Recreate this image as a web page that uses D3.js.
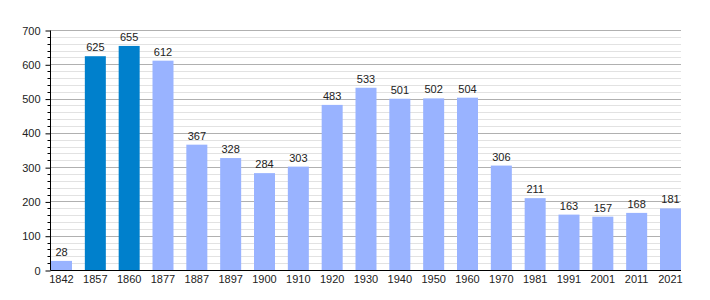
<!DOCTYPE html>
<html>
<head>
<meta charset="utf-8">
<script src="https://cdn.jsdelivr.net/npm/d3@7"></script>
<style>
  body { margin: 0; background: #fff; }
  text { font-family: "Liberation Sans", Arial, sans-serif; font-size: 11px; fill: #222; }
</style>
</head>
<body>
<div id="chart"></div>
<script>
var years = ["1842", "1857", "1860", "1877", "1887", "1897", "1900", "1910", "1920", "1930",
             "1940", "1950", "1960", "1970", "1981", "1991", "2001", "2011", "2021"];
var population = [28, 625, 655, 612, 367, 328, 284, 303, 483, 533,
                  501, 502, 504, 306, 211, 163, 157, 168, 181];
var highlighted = ["1857", "1860"];
var yTicks = [0, 100, 200, 300, 400, 500, 600, 700];

var width = 710, height = 300;
var plotLeft = 50.5, plotRight = 681, plotTop = 30.5, plotBottom = 270.5;

var svg = d3.select("#chart").append("svg")
    .attr("width", width)
    .attr("height", height);

var y = d3.scaleLinear().domain([0, 700]).range([plotBottom, plotTop]);

// bars sit flush to the left of each step
var barW = 21;
var step = (plotRight - barW - (plotLeft + 0.5)) / (years.length - 1);
var x = function (i) { return plotLeft + 0.5 + i * step; };

var minorVals = d3.range(20, 700, 20).filter(function (v) { return v % 100 !== 0; });
var py = function (d) { return Math.round(y(d) - 0.5) + 0.5; };

// minor grid
svg.append("g").selectAll("line")
    .data(minorVals)
    .enter().append("line")
    .attr("x1", plotLeft).attr("x2", plotRight)
    .attr("y1", py).attr("y2", py)
    .attr("stroke", "#e2e2e2");

// major grid
svg.append("g").selectAll("line")
    .data(yTicks.slice(1))
    .enter().append("line")
    .attr("x1", plotLeft).attr("x2", plotRight)
    .attr("y1", py).attr("y2", py)
    .attr("stroke", "#b0b0b0");

// bars
svg.append("g").selectAll("rect")
    .data(population)
    .enter().append("rect")
    .attr("x", function (d, i) { return x(i); })
    .attr("width", barW)
    .attr("y", function (d) { return y(d); })
    .attr("height", function (d) { return plotBottom - y(d); })
    .attr("fill", function (d, i) {
        return highlighted.indexOf(years[i]) >= 0 ? "#0080cc" : "#99b3ff";
    });

// value labels
svg.append("g").selectAll("text")
    .data(population)
    .enter().append("text")
    .attr("x", function (d, i) { return x(i) + barW / 2; })
    .attr("y", function (d) { return y(d) - 5; })
    .attr("text-anchor", "middle")
    .text(function (d) { return d; });

// x labels
svg.append("g").selectAll("text")
    .data(years)
    .enter().append("text")
    .attr("x", function (d, i) { return x(i) + barW / 2; })
    .attr("y", 283)
    .attr("text-anchor", "middle")
    .text(function (d) { return d; });

// y axis
var yAxis = d3.axisLeft(y).tickValues(yTicks).tickSize(5).tickPadding(5);
var ga = svg.append("g").attr("transform", "translate(" + plotLeft + ",0)").call(yAxis);
ga.select(".domain").attr("stroke", "#000").attr("d", "M0," + plotTop + "V" + plotBottom);
ga.selectAll(".tick line").attr("stroke", "#000");
ga.selectAll(".tick text").attr("fill", "#222").style("font-size", "11px")
    .style("font-family", "'Liberation Sans', Arial, sans-serif");

// minor ticks
svg.append("g").selectAll("line")
    .data(minorVals)
    .enter().append("line")
    .attr("x1", plotLeft - 3).attr("x2", plotLeft)
    .attr("y1", py).attr("y2", py)
    .attr("stroke", "#000");

// baseline
svg.append("line")
    .attr("x1", plotLeft).attr("x2", plotRight)
    .attr("y1", plotBottom).attr("y2", plotBottom)
    .attr("stroke", "#000");
</script>
</body>
</html>
